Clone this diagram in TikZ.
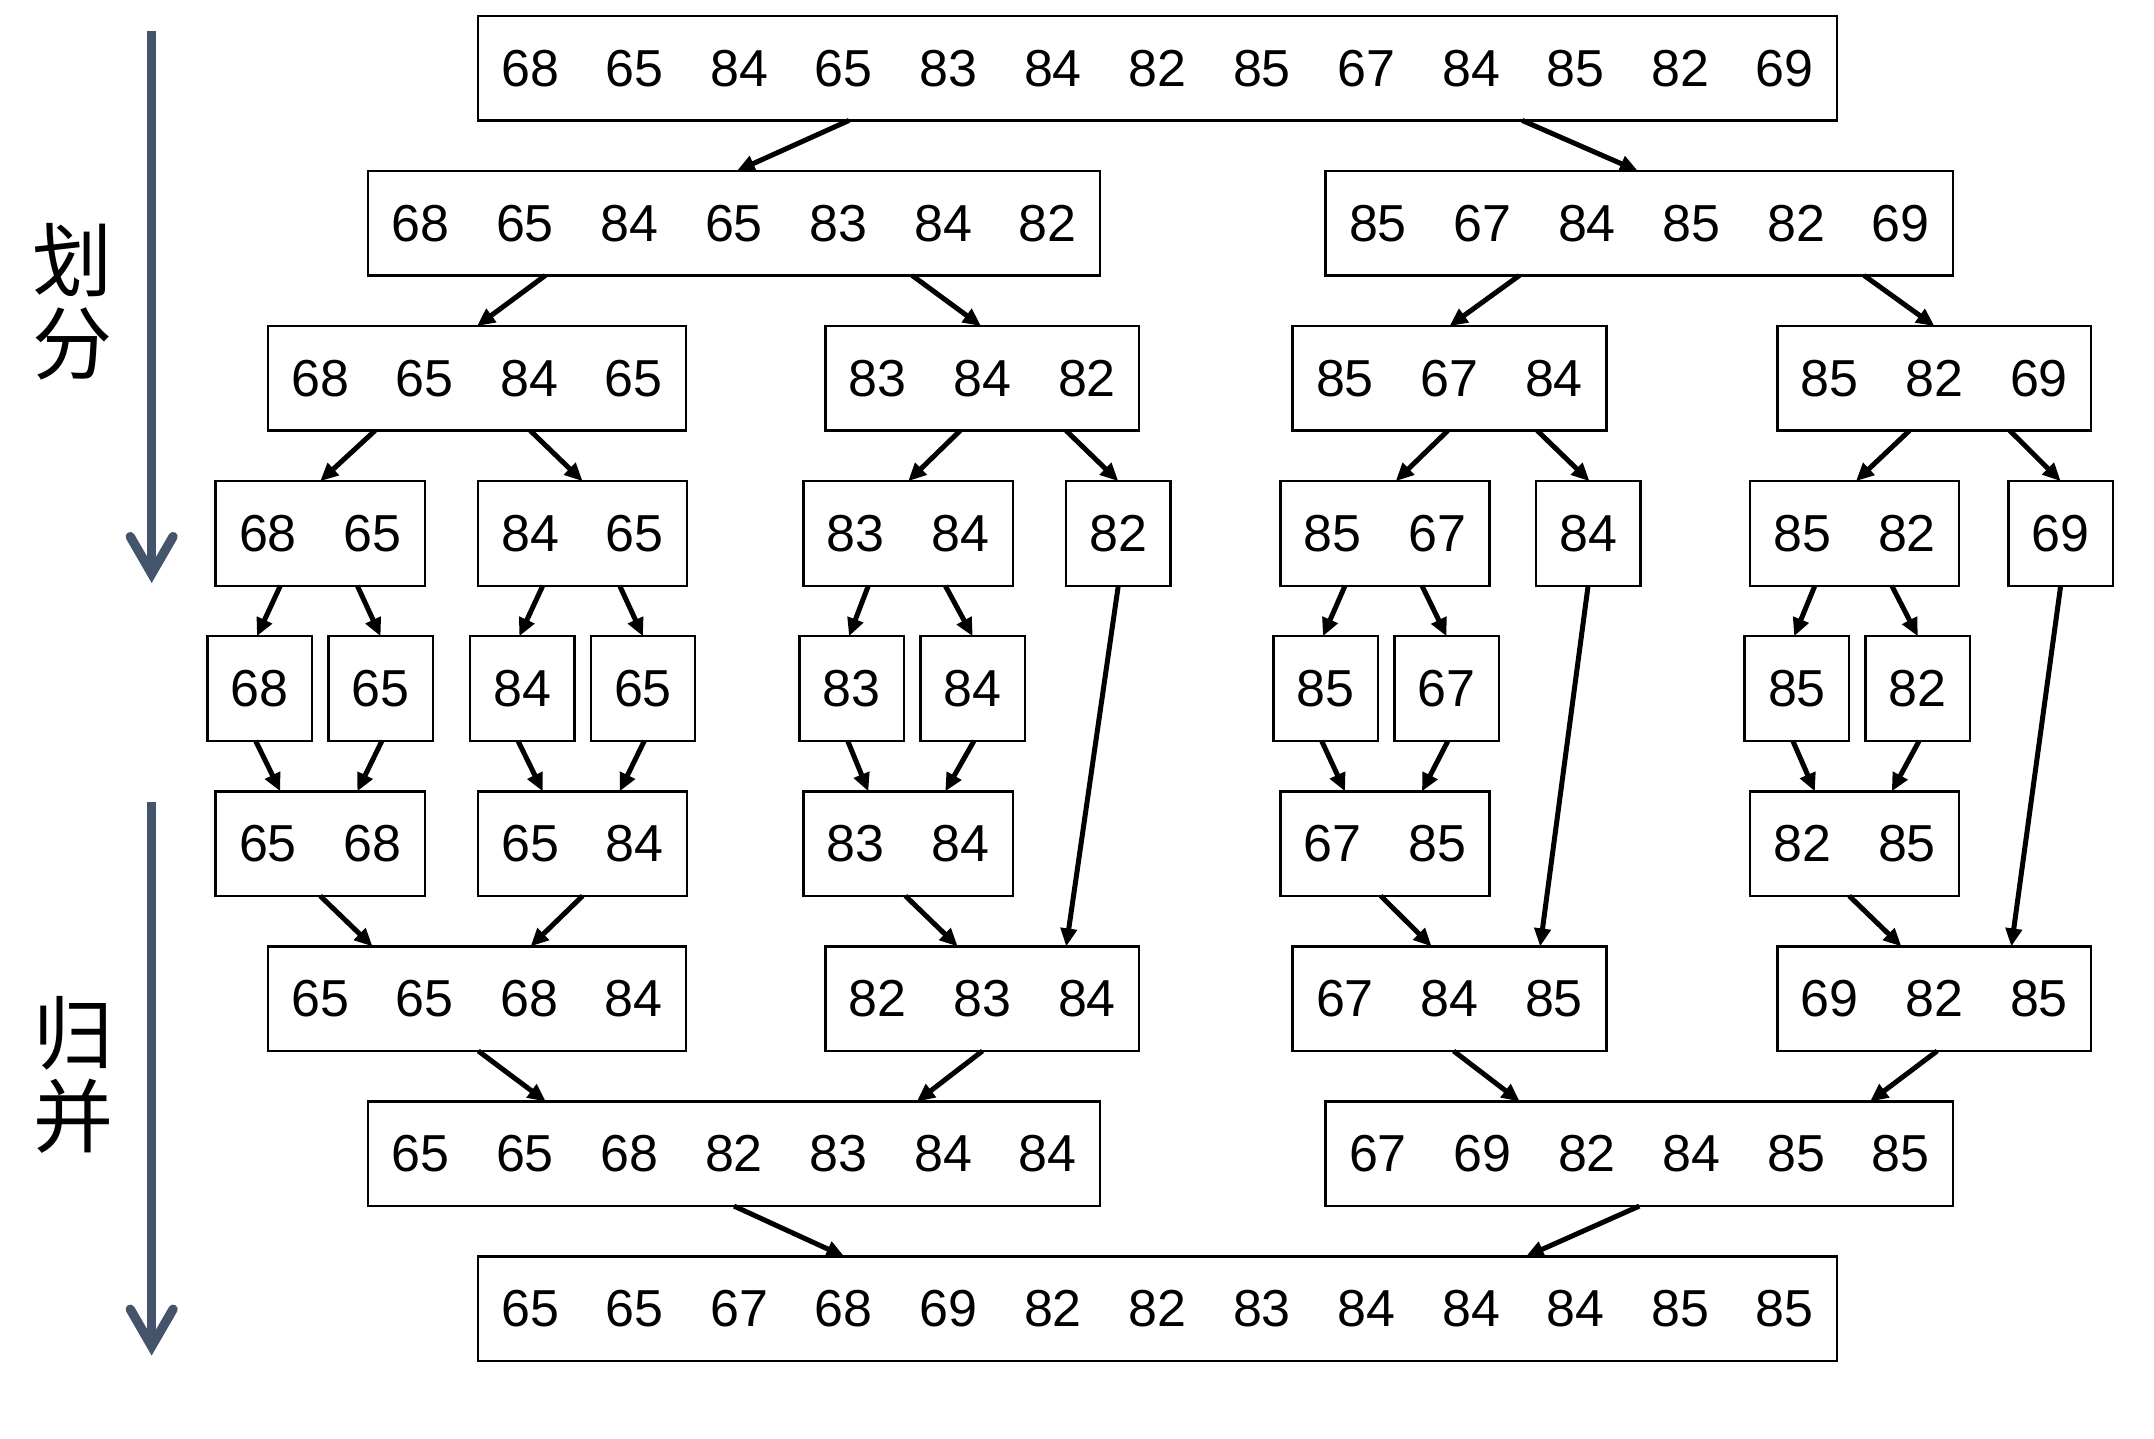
\documentclass[tikz,border=0pt]{standalone}
\usepackage{fontspec}
\setmainfont{Liberation Sans}
\newfontfamily\cjk{Noto Sans CJK SC}
\usetikzlibrary{arrows.meta}
\definecolor{slate}{HTML}{44546A}
\newlength\cw \setlength\cw{52.27pt}
\newcommand\nn[1]{\makebox[\cw]{#1}}
\newcommand\cn[4]{\draw[arr] ([xshift=#2*0.68686pt]#1.south) -- ([xshift=#4*0.68686pt]#3.north);}
\begin{document}
\begin{tikzpicture}[x=0.68686pt,y=-0.68686pt,
  bx/.style={draw, line width=1.2pt, inner sep=0pt, outer sep=0pt, minimum height=\cw,
    font=\fontsize{26}{30}\selectfont},
  arr/.style={line width=2.5pt, -{Triangle[length=9pt,width=8pt]}},
  side/.style={draw=slate, line width=4.65pt},
  sidehead/.style={draw=slate, line width=4.65pt, line cap=round, line join=miter},
  lab/.style={font=\cjk\fontsize{40}{41.75}\selectfont, align=center, inner sep=0pt}]
\useasboundingbox (0,0) rectangle (1568,1047.5);

% row 1
\node[bx] (r1) at (842.65,49.6) {\nn{68}\nn{65}\nn{84}\nn{65}\nn{83}\nn{84}\nn{82}\nn{85}\nn{67}\nn{84}\nn{85}\nn{82}\nn{69}};
% row 2
\node[bx] (r2a) at (534.35,162.5) {\nn{68}\nn{65}\nn{84}\nn{65}\nn{83}\nn{84}\nn{82}};
\node[bx] (r2b) at (1193.3,162.5) {\nn{85}\nn{67}\nn{84}\nn{85}\nn{82}\nn{69}};
% row 3
\node[bx] (r3a) at (347.2,275.4) {\nn{68}\nn{65}\nn{84}\nn{65}};
\node[bx] (r3b) at (715.15,275.4) {\nn{83}\nn{84}\nn{82}};
\node[bx] (r3c) at (1055.15,275.4) {\nn{85}\nn{67}\nn{84}};
\node[bx] (r3d) at (1408.15,275.4) {\nn{85}\nn{82}\nn{69}};
% row 4
\node[bx] (r4a) at (233.1,388.3) {\nn{68}\nn{65}};
\node[bx] (r4b) at (424.1,388.3) {\nn{84}\nn{65}};
\node[bx] (r4c) at (661.1,388.3) {\nn{83}\nn{84}};
\node[bx] (r4d) at (814.05,388.3) {\nn{82}};
\node[bx] (r4e) at (1008.1,388.3) {\nn{85}\nn{67}};
\node[bx] (r4f) at (1156.05,388.3) {\nn{84}};
\node[bx] (r4g) at (1350.1,388.3) {\nn{85}\nn{82}};
\node[bx] (r4h) at (1500.05,388.3) {\nn{69}};
% row 5
\node[bx] (r5a) at (189.05,501.2) {\nn{68}};
\node[bx] (r5b) at (277.05,501.2) {\nn{65}};
\node[bx] (r5c) at (380.05,501.2) {\nn{84}};
\node[bx] (r5d) at (468.05,501.2) {\nn{65}};
\node[bx] (r5e) at (620.05,501.2) {\nn{83}};
\node[bx] (r5f) at (708.05,501.2) {\nn{84}};
\node[bx] (r5g) at (965.05,501.2) {\nn{85}};
\node[bx] (r5h) at (1053.05,501.2) {\nn{67}};
\node[bx] (r5i) at (1308.05,501.2) {\nn{85}};
\node[bx] (r5j) at (1396.05,501.2) {\nn{82}};
% row 6
\node[bx] (r6a) at (233.1,614.1) {\nn{65}\nn{68}};
\node[bx] (r6b) at (424.1,614.1) {\nn{65}\nn{84}};
\node[bx] (r6c) at (661.1,614.1) {\nn{83}\nn{84}};
\node[bx] (r6e) at (1008.1,614.1) {\nn{67}\nn{85}};
\node[bx] (r6g) at (1350.1,614.1) {\nn{82}\nn{85}};
% row 7
\node[bx] (r7a) at (347.2,727.0) {\nn{65}\nn{65}\nn{68}\nn{84}};
\node[bx] (r7b) at (715.15,727.0) {\nn{82}\nn{83}\nn{84}};
\node[bx] (r7c) at (1055.15,727.0) {\nn{67}\nn{84}\nn{85}};
\node[bx] (r7d) at (1408.15,727.0) {\nn{69}\nn{82}\nn{85}};
% row 8
\node[bx] (r8a) at (534.35,839.9) {\nn{65}\nn{65}\nn{68}\nn{82}\nn{83}\nn{84}\nn{84}};
\node[bx] (r8b) at (1193.3,839.9) {\nn{67}\nn{69}\nn{82}\nn{84}\nn{85}\nn{85}};
% row 9
\node[bx] (r9) at (842.65,952.8) {\nn{65}\nn{65}\nn{67}\nn{68}\nn{69}\nn{82}\nn{82}\nn{83}\nn{84}\nn{84}\nn{84}\nn{85}\nn{85}};

% split arrows
\cn{r1}{-224.6}{r2a}{2}
\cn{r1}{265.4}{r2b}{-1}
\cn{r2a}{-137.4}{r3a}{0}
\cn{r2a}{129.7}{r3b}{-1}
\cn{r2b}{-87.3}{r3c}{0}
\cn{r2b}{163.7}{r3d}{0}
\cn{r3a}{-74.2}{r4a}{0}
\cn{r3a}{38.8}{r4b}{0}
\cn{r3b}{-16.2}{r4c}{0}
\cn{r3b}{60.9}{r4d}{0}
\cn{r3c}{-1.2}{r4e}{7.9}
\cn{r3c}{63.9}{r4f}{1}
\cn{r3d}{-18.2}{r4g}{0.9}
\cn{r3d}{54.9}{r4h}{0}
\cn{r4a}{-29}{r5a}{-2}
\cn{r4a}{27}{r5b}{0}
\cn{r4b}{-29}{r5c}{-2}
\cn{r4b}{27}{r5d}{0}
\cn{r4c}{-29}{r5e}{-2}
\cn{r4c}{27}{r5f}{0}
\cn{r4e}{-29}{r5g}{-2}
\cn{r4e}{27}{r5h}{0}
\cn{r4g}{-29}{r5i}{-2}
\cn{r4g}{27}{r5j}{0}
% merge arrows
\cn{r5a}{-3}{r6a}{-29}
\cn{r5b}{1}{r6a}{27}
\cn{r5c}{-3}{r6b}{-29}
\cn{r5d}{1}{r6b}{27}
\cn{r5e}{-3}{r6c}{-29}
\cn{r5f}{1}{r6c}{27}
\cn{r5g}{-3}{r6e}{-29}
\cn{r5h}{1}{r6e}{27}
\cn{r5i}{-3}{r6g}{-29}
\cn{r5j}{1}{r6g}{27}
\cn{r4d}{0}{r7b}{61}
\cn{r4f}{0}{r7c}{66}
\cn{r4h}{0}{r7d}{56}
\cn{r6a}{0}{r7a}{-76}
\cn{r6b}{0}{r7a}{39}
\cn{r6c}{-2}{r7b}{-18}
\cn{r6e}{-3}{r7c}{-13}
\cn{r6g}{-4}{r7d}{-24}
\cn{r7a}{1}{r8a}{-137}
\cn{r7b}{0}{r8a}{133}
\cn{r7c}{3}{r8b}{-87}
\cn{r7d}{2}{r8b}{168}
\cn{r8a}{0}{r9}{-228}
\cn{r8b}{0}{r9}{268}

% side arrows and labels
\draw[side] (110.4,22.6) -- (110.4,416);
\draw[sidehead] (94.8,390.6) -- (110.4,417.6) -- (126.0,390.6);
\draw[side] (110.4,583.7) -- (110.4,978);
\draw[sidehead] (94.8,953.0) -- (110.4,980.0) -- (126.0,953.0);
\node[lab] (t1) at (52.5,219.7) {划\\分};
\node[lab] (t2) at (53.5,782.3) {归\\并};
\end{tikzpicture}
\end{document}
